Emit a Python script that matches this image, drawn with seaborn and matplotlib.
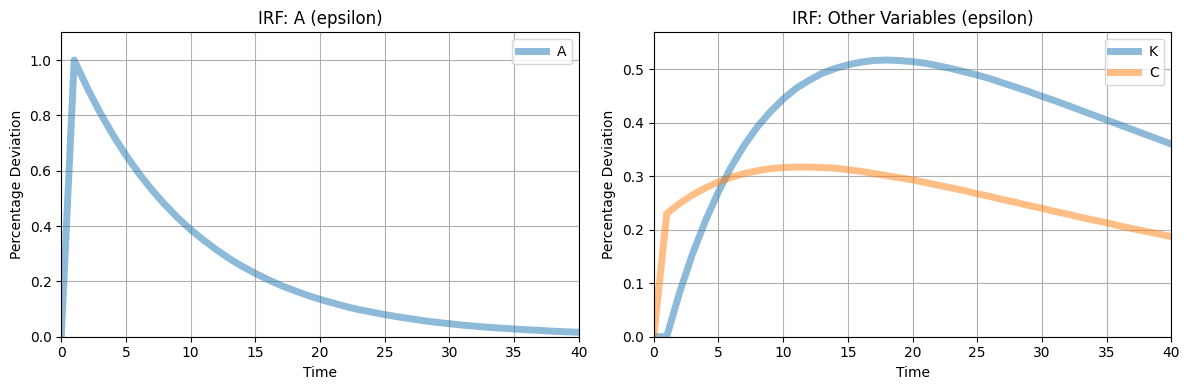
import numpy as np
import pandas as pd
import matplotlib
matplotlib.use("Agg")
import matplotlib.pyplot as plt
import seaborn as sns

# valores (t = 0..40)
tempo = list(range(41))

irf_A = [0.000, 1.000, 0.900, 0.810, 0.729, 0.656, 0.590, 0.531, 0.478, 0.430,
         0.387, 0.349, 0.314, 0.282, 0.254, 0.229, 0.206, 0.185, 0.167, 0.150,
         0.135, 0.122, 0.109, 0.098, 0.089, 0.080, 0.072, 0.065, 0.058, 0.052,
         0.047, 0.042, 0.038, 0.034, 0.031, 0.028, 0.025, 0.023, 0.020, 0.018,
         0.016]

irf_K = [0.000, 0.000, 0.083, 0.155, 0.217, 0.271, 0.318, 0.358, 0.392, 0.420,
         0.444, 0.464, 0.479, 0.492, 0.501, 0.508, 0.513, 0.516, 0.517, 0.516,
         0.514, 0.511, 0.506, 0.501, 0.495, 0.489, 0.482, 0.474, 0.466, 0.458,
         0.449, 0.441, 0.432, 0.423, 0.414, 0.405, 0.396, 0.387, 0.378, 0.369,
         0.360]

irf_C = [0.000, 0.230, 0.249, 0.265, 0.278, 0.289, 0.298, 0.305, 0.310, 0.314,
         0.316, 0.317, 0.317, 0.316, 0.315, 0.312, 0.309, 0.305, 0.301, 0.297,
         0.293, 0.288, 0.283, 0.278, 0.273, 0.267, 0.262, 0.256, 0.251, 0.245,
         0.240, 0.234, 0.229, 0.223, 0.218, 0.213, 0.207, 0.202, 0.197, 0.192,
         0.187]

df = pd.DataFrame({'Time': tempo, 'A': irf_A, 'K': irf_K, 'C': irf_C})

fig, axes = plt.subplots(1, 2, figsize=(12, 4))

# painel esquerdo: choque em A
ax = axes[0]
sns.lineplot(data=df, x='Time', y='A', ax=ax, label='A', linewidth=5, alpha=0.5, color='C0')
ax.set_title('IRF: A (epsilon)')
ax.set_xlabel('Time')
ax.set_ylabel('Percentage Deviation')
ax.set_xlim(0, 40)
ax.set_ylim(0, 1.1 * max(irf_A))
ax.grid(True)
ax.legend(loc='upper right')

# painel direito: outras variaveis
ax = axes[1]
sns.lineplot(data=df, x='Time', y='K', ax=ax, label='K', linewidth=5, alpha=0.5, color='C0')
sns.lineplot(data=df, x='Time', y='C', ax=ax, label='C', linewidth=5, alpha=0.5, color='C1')
ax.set_title('IRF: Other Variables (epsilon)')
ax.set_xlabel('Time')
ax.set_ylabel('Percentage Deviation')
ax.set_xlim(0, 40)
ax.set_ylim(0, 1.1 * max(irf_K))
ax.grid(True)
ax.legend(loc='upper right')

plt.tight_layout()
plt.savefig('out.png', dpi=100, bbox_inches='tight')
